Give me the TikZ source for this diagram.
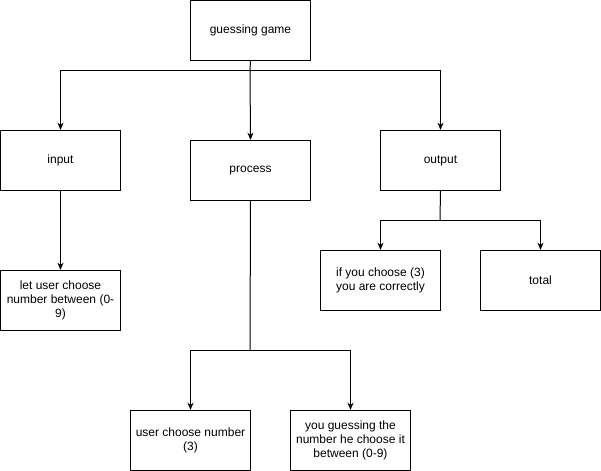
\documentclass[tikz,border=0pt]{standalone}
\usepackage{fontspec}
\setmainfont{Liberation Sans}
\usetikzlibrary{arrows.meta}
\begin{document}
\begin{tikzpicture}[x=0.75pt,y=-0.75pt,
  box/.style={draw,line width=0.75pt,minimum width=90pt,minimum height=45pt,inner sep=0pt,align=center,font=\fontsize{9}{10.5}\selectfont,anchor=north west},
  conn/.style={line width=0.75pt,-{Stealth[length=5.5pt,width=4.5pt]}},
  seg/.style={line width=0.75pt}]
\useasboundingbox (0,0) rectangle (601,471);
\node[box] (gg) at (190,0) {guessing game};
\node[box] (in) at (0,130) {input};
\node[box] (pr) at (190,140) {process};
\node[box] (out) at (380,130) {output};
\node[box] (let) at (0,270) {let user choose\\number between (0-\\9)};
\node[box] (ifc) at (320,250) {if you choose (3)\\you are correctly};
\node[box] (tot) at (480,250) {total};
\node[box] (ucn) at (130,410) {user choose number\\(3)};
\node[box] (yg) at (290,410) {you guessing the\\number he choose it\\between (0-9)};
\coordinate (j1) at (250,70);
\coordinate (j2) at (440,220);
\coordinate (j3) at (250,350);
\draw[seg] (gg.south) -- (j1);
\draw[conn] (j1) -| (in.north);
\draw[conn] (j1) -- (pr.north);
\draw[conn] (j1) -| (out.north);
\draw[conn] (in.south) -- (let.north);
\draw[seg] (out.south) -- (j2);
\draw[conn] (j2) -| (ifc.north);
\draw[conn] (j2) -| (tot.north);
\draw[seg] (pr.south) -- (j3);
\draw[conn] (j3) -| (ucn.north);
\draw[conn] (j3) -| (yg.north);
\end{tikzpicture}
\end{document}
